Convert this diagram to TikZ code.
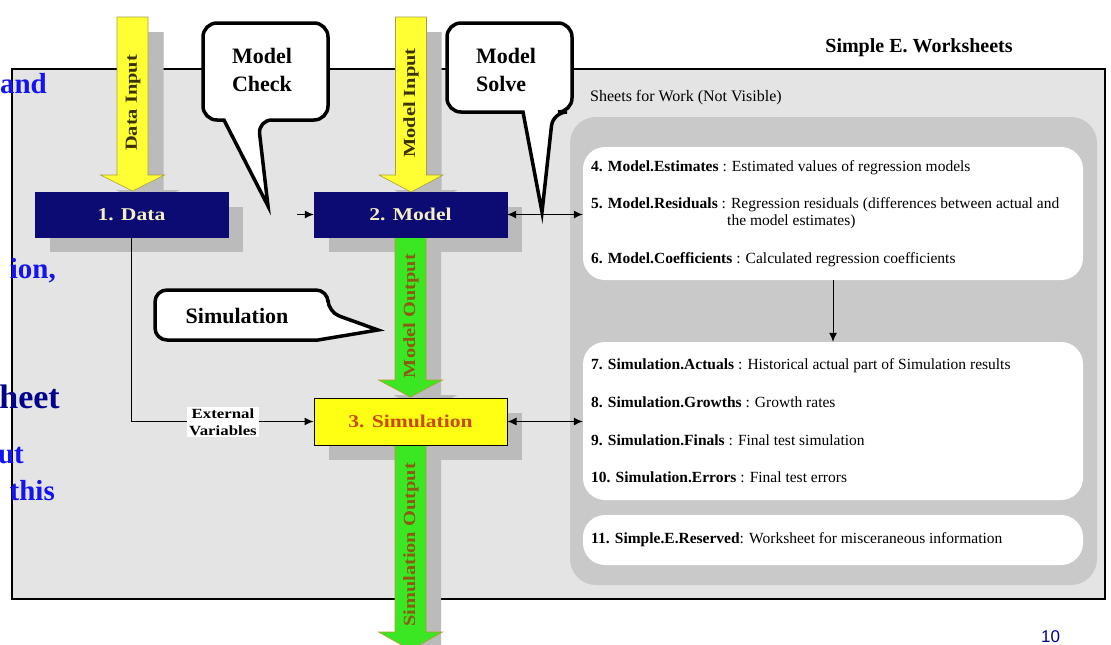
\documentclass[tikz,border=0pt]{standalone}
\usepackage{fontspec}
\setmainfont{Liberation Serif}
\newfontfamily\widefont[FakeStretch=1.2]{Liberation Serif}
\newfontfamily\pagefont{Liberation Sans}
\usetikzlibrary{arrows.meta,calc}
\definecolor{framegray}{HTML}{E4E4E4}
\definecolor{panelgray}{HTML}{C9C9C9}
\definecolor{shadowgray}{HTML}{BBBBBB}
\definecolor{navyfill}{HTML}{0B0B73}
\definecolor{creamtext}{HTML}{F4EEC0}
\definecolor{arrowyellow}{HTML}{FFFF33}
\definecolor{arrowgreen}{HTML}{3BE622}
\definecolor{simyellow}{HTML}{FFFF14}
\definecolor{simtext}{HTML}{C84A00}
\definecolor{slideblue}{HTML}{1414F0}
\definecolor{slidenavy}{HTML}{00008C}
\definecolor{olivetext}{HTML}{3A3300}
\definecolor{browntext}{HTML}{8C5A14}
\definecolor{headedge}{HTML}{B89A30}
\definecolor{yellowedge}{HTML}{A8A040}
\newcommand{\fatarrow}[5]{%
  \path[#5] ({#1-15.5},#2) -- ({#1+15.5},#2) -- ({#1+15.5},#3) -- ({#1+32},#3) -- (#1,#4) -- ({#1-32},#3) -- ({#1-15.5},#3) -- cycle;}
\begin{document}
\begin{tikzpicture}[x=1pt,y=-1pt,
  navybox/.style={fill=navyfill, draw=navyfill, minimum width=193pt, minimum height=45pt, inner sep=0pt,
    text=creamtext, font=\widefont\bfseries\fontsize{18}{20}\selectfont},
  simbox/.style={fill=simyellow, draw=black, line width=1pt, minimum width=193pt, minimum height=47pt, inner sep=0pt,
    text=simtext, font=\widefont\bfseries\fontsize{18}{20}\selectfont},
  shadowc/.style={fill=shadowgray, draw=none},
  yarrow/.style={fill=arrowyellow, draw=yellowedge, line width=0.6pt},
  garrow/.style={fill=arrowgreen, draw=headedge, line width=0.6pt},
  arrowlabel/.style={rotate=90, inner sep=0pt, font=\widefont\bfseries\fontsize{17}{19}\selectfont},
  callout/.style={fill=white, draw=black, line width=3.5pt, line join=miter},
  callouttext/.style={align=left, inner sep=0pt, font=\bfseries\fontsize{22}{28}\selectfont},
  whitebox/.style={fill=white, draw=none, rounded corners=22pt, minimum width=500pt, inner sep=0pt},
  item/.style={anchor=west, inner sep=0pt, font=\fontsize{15.5}{17}\selectfont},
  conn/.style={draw=black, line width=1pt, -{Latex[length=9pt,width=8pt]}},
  dconn/.style={draw=black, line width=1pt, {Latex[length=9pt,width=8pt]}-{Latex[length=9pt,width=8pt]}},
  extlabel/.style={fill=white, align=center, inner sep=2pt, font=\widefont\bfseries\fontsize{14}{17}\selectfont},
  fragblue/.style={anchor=base east, inner sep=0pt, text=slideblue, font=\bfseries\fontsize{29}{32}\selectfont},
]
\useasboundingbox (0,0) rectangle (1111,645);
\fill[white] (0,0) rectangle (1111,645);
% outer frame
\draw[fill=framegray, line width=1.2pt] (12,69) rectangle (1105,599);
\node[font=\bfseries\fontsize{20}{24}\selectfont, inner sep=0pt] (title) at (919,48) {Simple E. Worksheets};
\node[anchor=west, inner sep=0pt, font=\fontsize{16}{19}\selectfont] (sheets) at (590,98) {Sheets for Work (Not Visible)};
% panel and white boxes
\fill[panelgray, rounded corners=26pt] (570,117) rectangle (1097,585);
\node[whitebox, minimum height=133pt] (est) at (833,213.5) {};
\node[whitebox, minimum height=158pt] (simb) at (833,421) {};
\node[whitebox, minimum height=50pt] (resv) at (833,540) {};
\node[item] (l4) at (591,168) {\textbf{4. Model.Estimates} : Estimated values of regression models};
\node[item] (l5) at (591,205) {\textbf{5. Model.Residuals} : Regression residuals (differences between actual and};
\node[item] (l5b) at (727,222) {the model estimates)};
\node[item] (l6) at (591,260) {\textbf{6. Model.Coefficients} : Calculated regression coefficients};
\node[item] (l7) at (591,366) {\textbf{7. Simulation.Actuals} : Historical actual part of Simulation results};
\node[item] (l8) at (591,402) {\textbf{8. Simulation.Growths} : Growth rates};
\node[item] (l9) at (591,440) {\textbf{9. Simulation.Finals} : Final test simulation};
\node[item] (l10) at (591,477) {\textbf{10. Simulation.Errors} : Final test errors};
\node[item] (l11) at (591,540) {\textbf{11. Simple.E.Reserved}: Worksheet for misceraneous information};
\draw[conn] (est.south) -- (simb.north);
% shadows
\fill[shadowc] (50,207) rectangle (243,252);
\fill[shadowc] (329,207) rectangle (522,252);
\fill[shadowc] (329,413) rectangle (522,460);
\fatarrow{148}{32}{190}{205}{shadowc}
\fatarrow{426}{32}{190}{205}{shadowc}
\fatarrow{425.5}{252}{395}{412}{shadowc}
\fatarrow{425.5}{460}{647}{663}{shadowc}
% fat arrows
\fatarrow{132.5}{17}{175}{191}{yarrow}
\fatarrow{411}{17}{175}{192}{yarrow}
\fatarrow{410.5}{237}{380}{397}{garrow}
\fatarrow{410.5}{445}{632}{650}{garrow}
\node[arrowlabel, text=olivetext] (lbldata) at (133,103) {Data Input};
\node[arrowlabel, text=olivetext] (lblmodel) at (411,103) {Model Input};
\node[arrowlabel, text=browntext] (lblmout) at (411,316) {Model Output};
\node[arrowlabel, text=browntext] (lblsout) at (411,545) {Simulation Output};
% main boxes
\node[navybox] (data) at (131.5,214.5) {1. Data};
\node[navybox] (model) at (410.5,214.5) {2. Model};
\node[simbox] (sim) at (410.5,421.5) {3. Simulation};
% connectors
\coordinate (mcin) at (297,214.5);
\draw[conn] (mcin) -- (model.west);
\draw[dconn] (model.east) -- (model.east -| est.west);
\draw[dconn] (sim.east) -- (sim.east -| simb.west);
\draw[conn] (data.south) |- (sim.west);
\node[extlabel] (ext) at (223,422) {External\\Variables};
% callouts
\draw[callout] (203,70) [rounded corners=14pt] -- (203,23) -- (328,23) -- (328,120) -- (258,120) [sharp corners] -- (268,206) -- (224,120) [rounded corners=14pt] -- (203,120) -- cycle;
\draw[callout] (447,70) [rounded corners=14pt] -- (447,23) -- (572,23) -- (572,112) -- (553,112) [sharp corners] -- (542,212) -- (523,112) [rounded corners=14pt] -- (447,112) -- cycle;
\draw[callout] (155,315) [rounded corners=12pt] -- (155,290) -- (328,290) -- (328,312) [sharp corners] -- (378,330) -- (318,340) [rounded corners=12pt] -- (155,340) -- cycle;
\node[callouttext] (mchk) at (262,70) {Model\\Check};
\node[callouttext] (msol) at (506,70) {Model\\Solve};
\node[callouttext] (simc) at (237,316) {Simulation};
% slide text fragments
\node[fragblue] (fa) at (47,93) {and};
\node[fragblue] (fb) at (56,278) {ion,};
\node[fragblue, text=slidenavy, font=\bfseries\fontsize{34}{36}\selectfont] (fc) at (60,408) {heet};
\node[fragblue] (fd) at (24,463) {ut};
\node[fragblue] (fe) at (55,500) {this};
\node[anchor=base west, inner sep=0pt, text=slidenavy, font=\pagefont\fontsize{17}{19}\selectfont] (pg) at (1041,642) {10};
\end{tikzpicture}
\end{document}
